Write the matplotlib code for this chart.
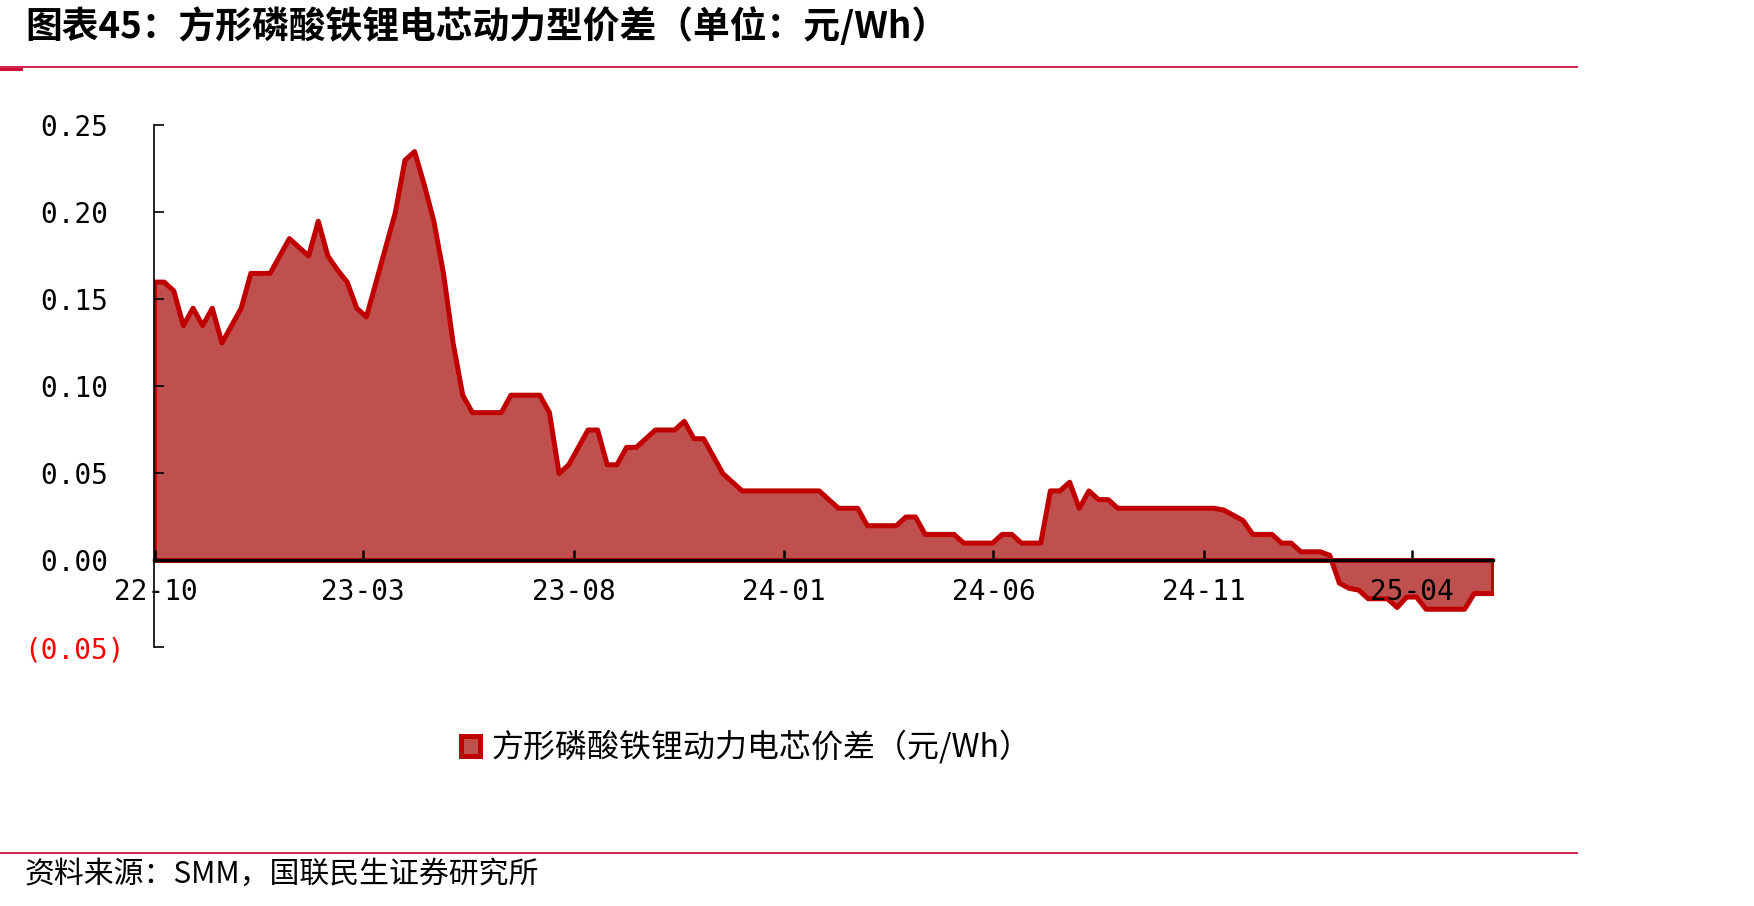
import pandas as pd
import matplotlib
matplotlib.use("Agg")
import matplotlib.pyplot as plt
from matplotlib.lines import Line2D

plt.rcParams['font.family'] = ['Noto Sans CJK SC', 'DejaVu Sans']

# weekly price spread, 元/Wh
start = '2022-09-30'
spread = [
    0.16, 0.16, 0.155, 0.135, 0.145, 0.135, 0.145, 0.125, 0.135, 0.145,
    0.165, 0.165, 0.165, 0.175, 0.185, 0.18, 0.175, 0.195, 0.175, 0.167,
    0.16, 0.145, 0.14, 0.16, 0.18, 0.20, 0.23, 0.235, 0.216, 0.195,
    0.165, 0.125, 0.095, 0.085, 0.085, 0.085, 0.085, 0.095, 0.095, 0.095,
    0.095, 0.085, 0.05, 0.055, 0.065, 0.075, 0.075, 0.055, 0.055, 0.065,
    0.065, 0.07, 0.075, 0.075, 0.075, 0.08, 0.07, 0.07, 0.06, 0.05,
    0.045, 0.04, 0.04, 0.04, 0.04, 0.04, 0.04, 0.04, 0.04, 0.04,
    0.035, 0.03, 0.03, 0.03, 0.02, 0.02, 0.02, 0.02, 0.025, 0.025,
    0.015, 0.015, 0.015, 0.015, 0.01, 0.01, 0.01, 0.01, 0.015, 0.015,
    0.01, 0.01, 0.01, 0.04, 0.04, 0.045, 0.03, 0.04, 0.035, 0.035,
    0.03, 0.03, 0.03, 0.03, 0.03, 0.03, 0.03, 0.03, 0.03, 0.03,
    0.03, 0.029, 0.026, 0.023, 0.015, 0.015, 0.015, 0.01, 0.01, 0.005,
    0.005, 0.005, 0.003, -0.013, -0.016, -0.017, -0.022, -0.022, -0.022, -0.027,
    -0.021, -0.021, -0.028, -0.028, -0.028, -0.028, -0.028, -0.019, -0.019, -0.019,
]
dates = pd.date_range(start, periods=len(spread), freq='7D')

xtick_dates = ['2022-10-01', '2023-03-01', '2023-08-01', '2024-01-01',
               '2024-06-01', '2024-11-01', '2025-04-01']
xtick_labels = ['22-10', '23-03', '23-08', '24-01', '24-06', '24-11', '25-04']
yticks = [-0.05, 0.0, 0.05, 0.10, 0.15, 0.20, 0.25]
ytick_labels = ['(0.05)', '0.00 ', '0.05 ', '0.10 ', '0.15 ', '0.20 ', '0.25 ']

title = '图表45：方形磷酸铁锂电芯动力型价差（单位：元/Wh）'
series_name = '方形磷酸铁锂动力电芯价差（元/Wh）'
source = '资料来源：SMM，国联民生证券研究所'

W, H = 1754, 906
fig = plt.figure(figsize=(W / 100, H / 100), dpi=100)
ax = fig.add_axes([154 / W, 1 - 647 / H, (1493 - 154) / W, (647 - 125) / H])

area = ax.fill_between(dates, spread, 0, facecolor='#C0504D', edgecolor='#C00000',
                       linewidth=3.6, zorder=1, label=series_name)

ax.set_xlim(dates[0], dates[-1])
ax.set_ylim(-0.05, 0.25)

for s in ['top', 'right']:
    ax.spines[s].set_visible(False)
ax.spines['left'].set_linewidth(1.2)
ax.spines['bottom'].set_position(('data', 0))
ax.spines['bottom'].set_linewidth(2.4)
ax.spines['bottom'].set_zorder(3)

mono = 'DejaVu Sans Mono'
ax.set_xticks(pd.to_datetime(xtick_dates))
ax.set_xticklabels(xtick_labels, family=mono, fontsize=20)
ax.set_yticks(yticks)
ax.set_yticklabels(ytick_labels, family=mono, fontsize=20)
ax.get_yticklabels()[0].set_color('red')
ax.tick_params(axis='x', direction='in', length=7, width=1.8, pad=13)
ax.tick_params(axis='y', direction='in', length=7, width=1.2, pad=21)

fig.legend(handles=[area], labels=[series_name], loc='center left',
           bbox_to_anchor=(461 / W, 1 - 747 / H), frameon=False, fontsize=23,
           handlelength=0.6, handleheight=0.6, handletextpad=0.35,
           borderpad=0, borderaxespad=0)

fig.text(25 / W, 1 - 27 / H, title, fontsize=26.5, fontweight='bold', va='center')
fig.text(25 / W, 1 - 874 / H, source, fontsize=21.5, va='center')

red = '#D0103A'
fig.add_artist(Line2D([0, 1577 / W], [1 - 67 / H] * 2, color=red, lw=1.3))
fig.add_artist(Line2D([0, 21 / W], [1 - 68.5 / H] * 2, color=red, lw=2.2))
fig.add_artist(Line2D([0, 1577 / W], [1 - 853 / H] * 2, color=red, lw=1.3))

fig.savefig('out.png', dpi=100)
